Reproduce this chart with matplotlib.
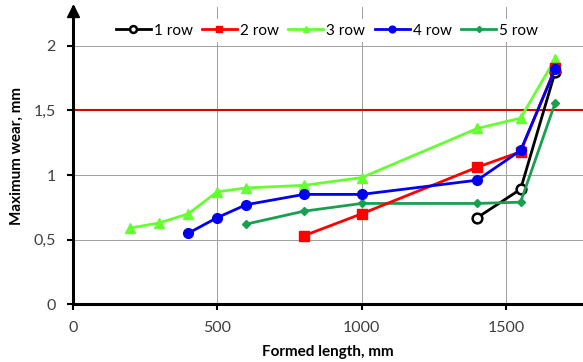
import numpy as np
import matplotlib
matplotlib.use("Agg")
import matplotlib.pyplot as plt

plt.rcParams['font.family'] = ['Lato', 'DejaVu Sans']

# Data (formed length, mm -> maximum wear, mm)
x_row1 = [1400, 1550, 1670]
y_row1 = [0.67, 0.89, 1.80]

x_row2 = [800, 1000, 1400, 1550, 1670]
y_row2 = [0.53, 0.70, 1.06, 1.18, 1.83]

x_row3 = [200, 300, 400, 500, 600, 800, 1000, 1400, 1550, 1670]
y_row3 = [0.59, 0.63, 0.70, 0.87, 0.90, 0.92, 0.98, 1.36, 1.44, 1.90]

x_row4 = [400, 500, 600, 800, 1000, 1400, 1550, 1670]
y_row4 = [0.55, 0.67, 0.77, 0.85, 0.85, 0.96, 1.19, 1.82]

x_row5 = [600, 800, 1000, 1400, 1550, 1670]
y_row5 = [0.62, 0.72, 0.78, 0.78, 0.79, 1.56]

limit_wear = 1.5
x_ticks = [0, 500, 1000, 1500]
y_ticks = [0, 0.5, 1, 1.5, 2]
y_tick_labels = ["0", "0,5", "1", "1,5", "2"]

fig = plt.figure(figsize=(5.83, 3.62), dpi=100)
ax = fig.add_axes([0.1247, 0.1594, 0.8753, 0.8215])

ax.set_xlim(0, 1766)
ax.set_ylim(0, 2.3)

# grid
for xv in x_ticks[1:]:
    ax.axvline(xv, color="#a0a0a0", lw=0.7, zorder=1)
for yv in y_ticks[1:]:
    ax.axhline(yv, color="#a0a0a0", lw=0.7, zorder=1)

ax.axhline(limit_wear, color="#e00000", lw=1.5, zorder=2)

lw = 2.0
ax.plot(x_row1, y_row1, color="black", lw=lw, marker="o", ms=7, mfc="white",
        mec="black", mew=1.8, label="1 row", zorder=3)
ax.plot(x_row2, y_row2, color="#ff0000", lw=lw, marker="s", ms=7,
        label="2 row", zorder=4)
ax.plot(x_row3, y_row3, color="#66ff33", lw=lw, marker="^", ms=7,
        label="3 row", zorder=3)
ax.plot(x_row4, y_row4, color="#0000ee", lw=lw, marker="o", ms=7,
        label="4 row", zorder=5)
ax.plot(x_row5, y_row5, color="#18a050", lw=lw, marker="D", ms=4.5,
        label="5 row", zorder=3)

ax.set_xticks(x_ticks)
ax.set_yticks(y_ticks)
ax.set_yticklabels(y_tick_labels)
ax.tick_params(direction="out", length=4, width=1.5, labelsize=11.5,
               labelcolor="#404040", pad=8)

for s in ["top", "right"]:
    ax.spines[s].set_visible(False)
for s in ["left", "bottom"]:
    ax.spines[s].set_linewidth(2.2)

# arrow head on the y axis
ax.plot(0, 0.985, marker="^", color="black", ms=8, transform=ax.transAxes,
        clip_on=False, zorder=6)

ax.set_xlabel("Formed length, mm", fontsize=11, fontweight="bold", labelpad=7)
ax.set_ylabel("Maximum wear, mm", fontsize=11, fontweight="bold", labelpad=7)

leg = ax.legend(loc="upper center", bbox_to_anchor=(0.498, 0.985), ncol=5,
                frameon=True, fontsize=11, handlelength=2.3,
                handletextpad=0.2, columnspacing=0.6, borderpad=0.3,
                markerscale=0.7)
leg.get_frame().set_edgecolor("none")
leg.get_frame().set_facecolor("white")
leg.get_frame().set_alpha(1)

fig.savefig("out.png", dpi=100)
